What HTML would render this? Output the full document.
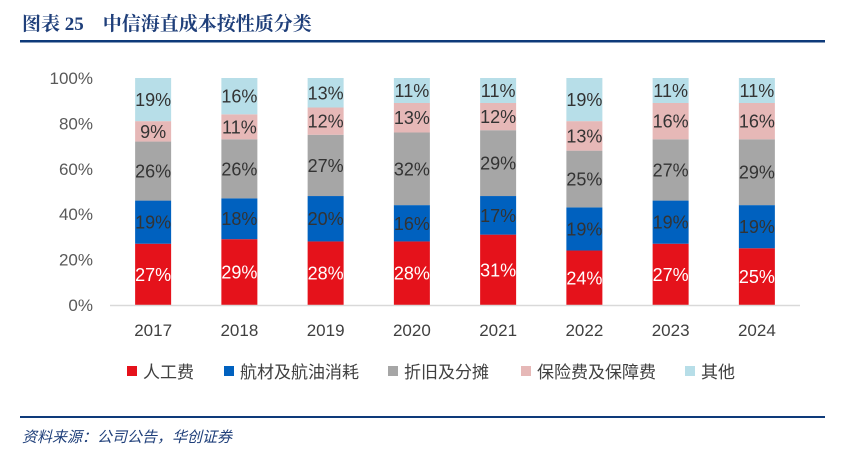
<!DOCTYPE html>
<html><head><meta charset="utf-8"><style>
html,body{margin:0;padding:0;background:#fff;width:845px;height:454px;overflow:hidden}
svg{display:block}
</style></head><body>
<svg id="c" width="845" height="454" xmlns="http://www.w3.org/2000/svg" font-family="'Liberation Sans','Noto Sans CJK SC',sans-serif">
<text x="22" y="30" font-family="'Liberation Serif','Noto Serif CJK SC',serif" font-weight="bold" font-size="19" fill="#1F3F7A">图表 25　中信海直成本按性质分类</text>
<rect x="20" y="40" width="805" height="2.5" fill="#0E3A7A"/>
<rect x="20" y="416" width="805" height="2" fill="#0E3A7A"/>
<text x="22" y="442" font-size="15" font-style="italic" fill="#1F3F7A">资料来源：公司公告，华创证券</text>
<g id="plot"></g>
</svg>
<script>
const years=['2017','2018','2019','2020','2021','2022','2023','2024'];
const labor=[27,29,28,28,31,24,27,25];
const material=[19,18,20,16,17,19,19,19];
const depreciation=[26,26,27,32,29,25,27,29];
const insurance=[9,11,12,13,12,13,16,16];
const other=[19,16,13,11,11,19,11,11];
const yTicks=[0,20,40,60,80,100];
const seriesNames=['人工费','航材及航油消耗','折旧及分摊','保险费及保障费','其他'];
const seriesData=[labor,material,depreciation,insurance,other];
const colors=['#E5121B','#0061BF','#A6A6A6','#E6B8B7','#B7DEE8'];
const textColors=['#fff','#333','#333','#333','#333'];
const ns='http://www.w3.org/2000/svg';
const g=document.getElementById('plot');
const y0=305,y1=78,xl=110,xr=800;
const yS=v=>y0-(y0-y1)*v/100;
const step=(xr-xl)/years.length;
const xS=i=>xl+step*(i+0.5);
function mk(t,a){const e=document.createElementNS(ns,t);for(const k in a)e.setAttribute(k,a[k]);g.appendChild(e);return e;}
yTicks.forEach(v=>{const t=mk('text',{x:93,y:yS(v)+6,'text-anchor':'end','font-size':17,fill:'#595959'});t.textContent=v+'%';

});
years.forEach((yr,i)=>{let acc=0;const cx=xS(i);
seriesData.forEach((s,k)=>{const v=s[i];const top=yS(acc+v),bot=yS(acc);
const r=mk('rect',{x:cx-18,y:top,width:36,height:bot-top,fill:colors[k]});


const t=mk('text',{x:cx,y:(top+bot)/2+6.5,'text-anchor':'middle','font-size':18,fill:textColors[k]});t.textContent=v+'%';


acc+=v;});
const t=mk('text',{x:cx,y:336,'text-anchor':'middle','font-size':17,fill:'#404040'});t.textContent=yr;

});
const ax=mk('line',{x1:xl,y1:y0+0.5,x2:xr,y2:y0+0.5,stroke:'#D9D9D9','stroke-width':1.5});


const lx=[127,224,388,521,685];
seriesNames.forEach((n,k)=>{const r=mk('rect',{x:lx[k],y:366,width:10,height:10,fill:colors[k]});


const t=mk('text',{x:lx[k]+16,y:378,'font-size':17,fill:'#404040'});t.textContent=n;

});
</script>
</body></html>
